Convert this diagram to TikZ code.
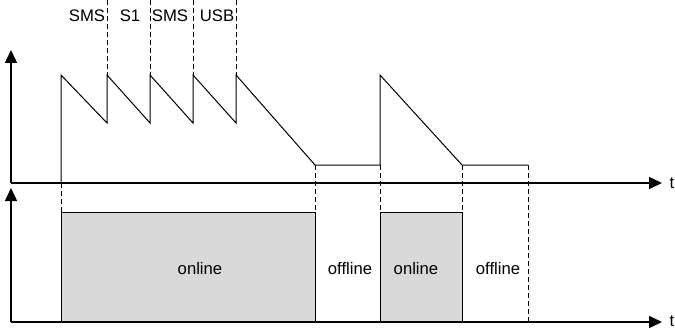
\documentclass[tikz,border=0pt]{standalone}
\usepackage{fontspec}
\setmainfont{Liberation Sans}
\usetikzlibrary{arrows.meta}
\tikzstyle{axis} = [draw, line width=1.5pt, -{Triangle[length=13pt,width=12pt]}]
\tikzstyle{signal} = [draw, line width=1pt, line join=miter]
\tikzstyle{guide} = [draw, line width=1pt, dash pattern=on 5pt off 3pt]
\tikzstyle{state} = [draw, line width=1pt, fill=black!15]
\tikzstyle{txt} = [font=\fontsize{16.7}{20}\selectfont, inner sep=0pt]

\begin{document}
\begin{tikzpicture}[x=1pt, y=-1pt]
    \useasboundingbox (0,0) rectangle (675,329);
    % Place axes points
    \coordinate (o1) at (11,183);
    \coordinate (y1) at (11,50);
    \coordinate (t1) at (662,183);
    \coordinate (o2) at (11,322);
    \coordinate (y2) at (11,188);
    \coordinate (t2) at (662,322);
    % Place signal points
    \coordinate (a0) at (61,183);
    \coordinate (p1) at (61,75);   \coordinate (v1) at (107,123);
    \coordinate (p2) at (107,75);  \coordinate (v2) at (150,123);
    \coordinate (p3) at (150,75);  \coordinate (v3) at (193,123);
    \coordinate (p4) at (193,75);  \coordinate (v4) at (236,123);
    \coordinate (p5) at (236,75);  \coordinate (e1) at (315,165);
    \coordinate (e2) at (380,165); \coordinate (p6) at (380,75);
    \coordinate (e3) at (462,165); \coordinate (e4) at (528,165);
    % Place state boxes
    \coordinate (r1) at (61,212);  \coordinate (r2) at (315,322);
    \coordinate (r3) at (380,212); \coordinate (r4) at (462,322);
    \coordinate (e5) at (528,322);
    % Place texts
    \node [txt] (x1) at (672,183) {t};
    \node [txt] (x2) at (672,321) {t};
    \node [txt] (sms1) at (87,16) {SMS};
    \node [txt] (s1) at (130,16) {S1};
    \node [txt] (sms2) at (170,16) {SMS};
    \node [txt] (usb) at (217,16) {USB};
    % Draw boxes
    \path [state] (r1) rectangle (r2);
    \path [state] (r3) rectangle (r4);
    \node [txt] (on1) at (200,269) {online};
    \node [txt] (off1) at (350,269) {offline};
    \node [txt] (on2) at (416,269) {online};
    \node [txt] (off2) at (498,269) {offline};
    % Draw axes
    \path [axis] (o1) -- (y1);
    \path [axis] (o1) -- (t1);
    \path [axis] (o2) -- (y2);
    \path [axis] (o2) -- (t2);
    % Draw signal
    \path [signal] (a0) -- (p1) -- (v1) -- (p2) -- (v2) -- (p3) -- (v3)
        -- (p4) -- (v4) -- (p5) -- (e1) -- (e2) -- (p6) -- (e3) -- (e4);
    % Draw guides
    \foreach \p in {p2,p3,p4,p5}
        \path [guide] (\p |- 0,0) -- (\p);
    \path [guide] (a0) -- (r1);
    \path [guide] (e1) -- (e1 |- r1);
    \path [guide] (e2) -- (r3);
    \path [guide] (e3) -- (e3 |- r3);
    \path [guide] (e4) -- (e5);
\end{tikzpicture}
\end{document}
